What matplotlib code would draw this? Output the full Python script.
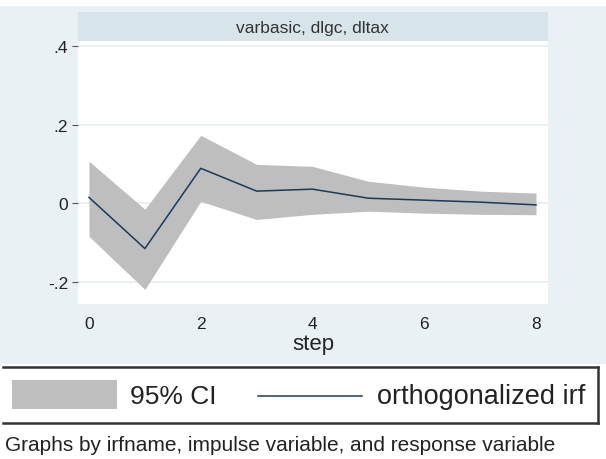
import matplotlib
matplotlib.use("Agg")
import matplotlib.pyplot as plt
from matplotlib.patches import Rectangle
from matplotlib.lines import Line2D

# impulse response of dltax to dlgc, with 95% band
steps = [0, 1, 2, 3, 4, 5, 6, 7, 8]
irf = [0.015, -0.115, 0.089, 0.031, 0.036, 0.013, 0.008, 0.003, -0.004]
ci_upper = [0.107, -0.015, 0.173, 0.099, 0.094, 0.056, 0.041, 0.031, 0.026]
ci_lower = [-0.084, -0.219, 0.005, -0.041, -0.028, -0.020, -0.025, -0.028, -0.029]

ytick_vals = [-0.2, 0, 0.2, 0.4]
ytick_labels = ["-.2", "0", ".2", ".4"]
xtick_vals = [0, 2, 4, 6, 8]

panel_title = "varbasic, dlgc, dltax"
legend_labels = ["95% CI", "orthogonalized irf"]
note = "Graphs by irfname, impulse variable, and response variable"

W, H = 606, 460
plt.rcParams['font.family'] = ['Liberation Sans', 'DejaVu Sans']

fig = plt.figure(figsize=(W / 100, H / 100), dpi=100)
fig.patch.set_facecolor('white')


def fx(px):
    return px / W


def fy(py):
    return 1 - py / H


def fig_rect(x0, y0, x1, y1, **kw):
    fig.add_artist(Rectangle((fx(x0), fy(y1)), fx(x1) - fx(x0), fy(y0) - fy(y1),
                             transform=fig.transFigure, **kw))


def fig_line(xs, ys, **kw):
    fig.add_artist(Line2D([fx(x) for x in xs], [fy(y) for y in ys],
                          transform=fig.transFigure, **kw))


# graph region and panel header
fig_rect(0, 7, W, 365, facecolor='#eaf1f4', edgecolor='none', zorder=0)
fig_rect(78, 13, 548, 42, facecolor='#d7e5ea', edgecolor='none', zorder=1)
fig.text(fx(312), fy(28), panel_title, ha='center', va='center',
         fontsize=12.5, color='#333333')

ax = fig.add_axes([fx(78), fy(305), fx(548) - fx(78), fy(42) - fy(305)])
ax.set_facecolor('white')
for s in ax.spines.values():
    s.set_visible(False)

ax.fill_between(steps, ci_lower, ci_upper, color='#bebebe', linewidth=0, zorder=2)
ax.plot(steps, irf, color='#1a3a58', linewidth=1.1, zorder=3)

ax.set_xlim(-0.197, 8.215)
ax.set_ylim(-0.256, 0.4127)
ax.set_yticks(ytick_vals)
ax.set_yticklabels(ytick_labels)
ax.set_xticks(xtick_vals)
ax.grid(axis='y', color='#e4edf0', linewidth=1.2, zorder=1)
ax.set_axisbelow(True)
ax.tick_params(axis='y', length=4, width=0.8, color='#555555', pad=3,
               labelsize=12.5, labelcolor='#222222')
ax.tick_params(axis='x', length=0, pad=9, labelsize=12.5, labelcolor='#222222')
ax.set_xlabel("step", fontsize=16, color='#222222', labelpad=1)

# legend box
fig_rect(3, 368, 598, 424, facecolor='white', edgecolor='none', zorder=1)
fig_line([3, 598], [368, 368], color='#333333', linewidth=1.8, zorder=2)
fig_line([3, 598], [424, 424], color='#333333', linewidth=1.8, zorder=2)
fig_line([598, 598], [368, 424], color='#333333', linewidth=1.8, zorder=2)
fig_rect(12, 381, 117, 410, facecolor='#bebebe', edgecolor='none', zorder=2)
fig.text(fx(130), fy(397), legend_labels[0], ha='left', va='center',
         fontsize=19, color='#222222')
fig_line([258, 362], [397, 397], color='#1a3a58', linewidth=1.1, zorder=2)
fig.text(fx(377), fy(397), legend_labels[1], ha='left', va='center',
         fontsize=19.5, color='#222222')

fig.text(fx(5), fy(446), note, ha='left', va='center', fontsize=15, color='#222222')

fig.savefig("out.png", dpi=100)
